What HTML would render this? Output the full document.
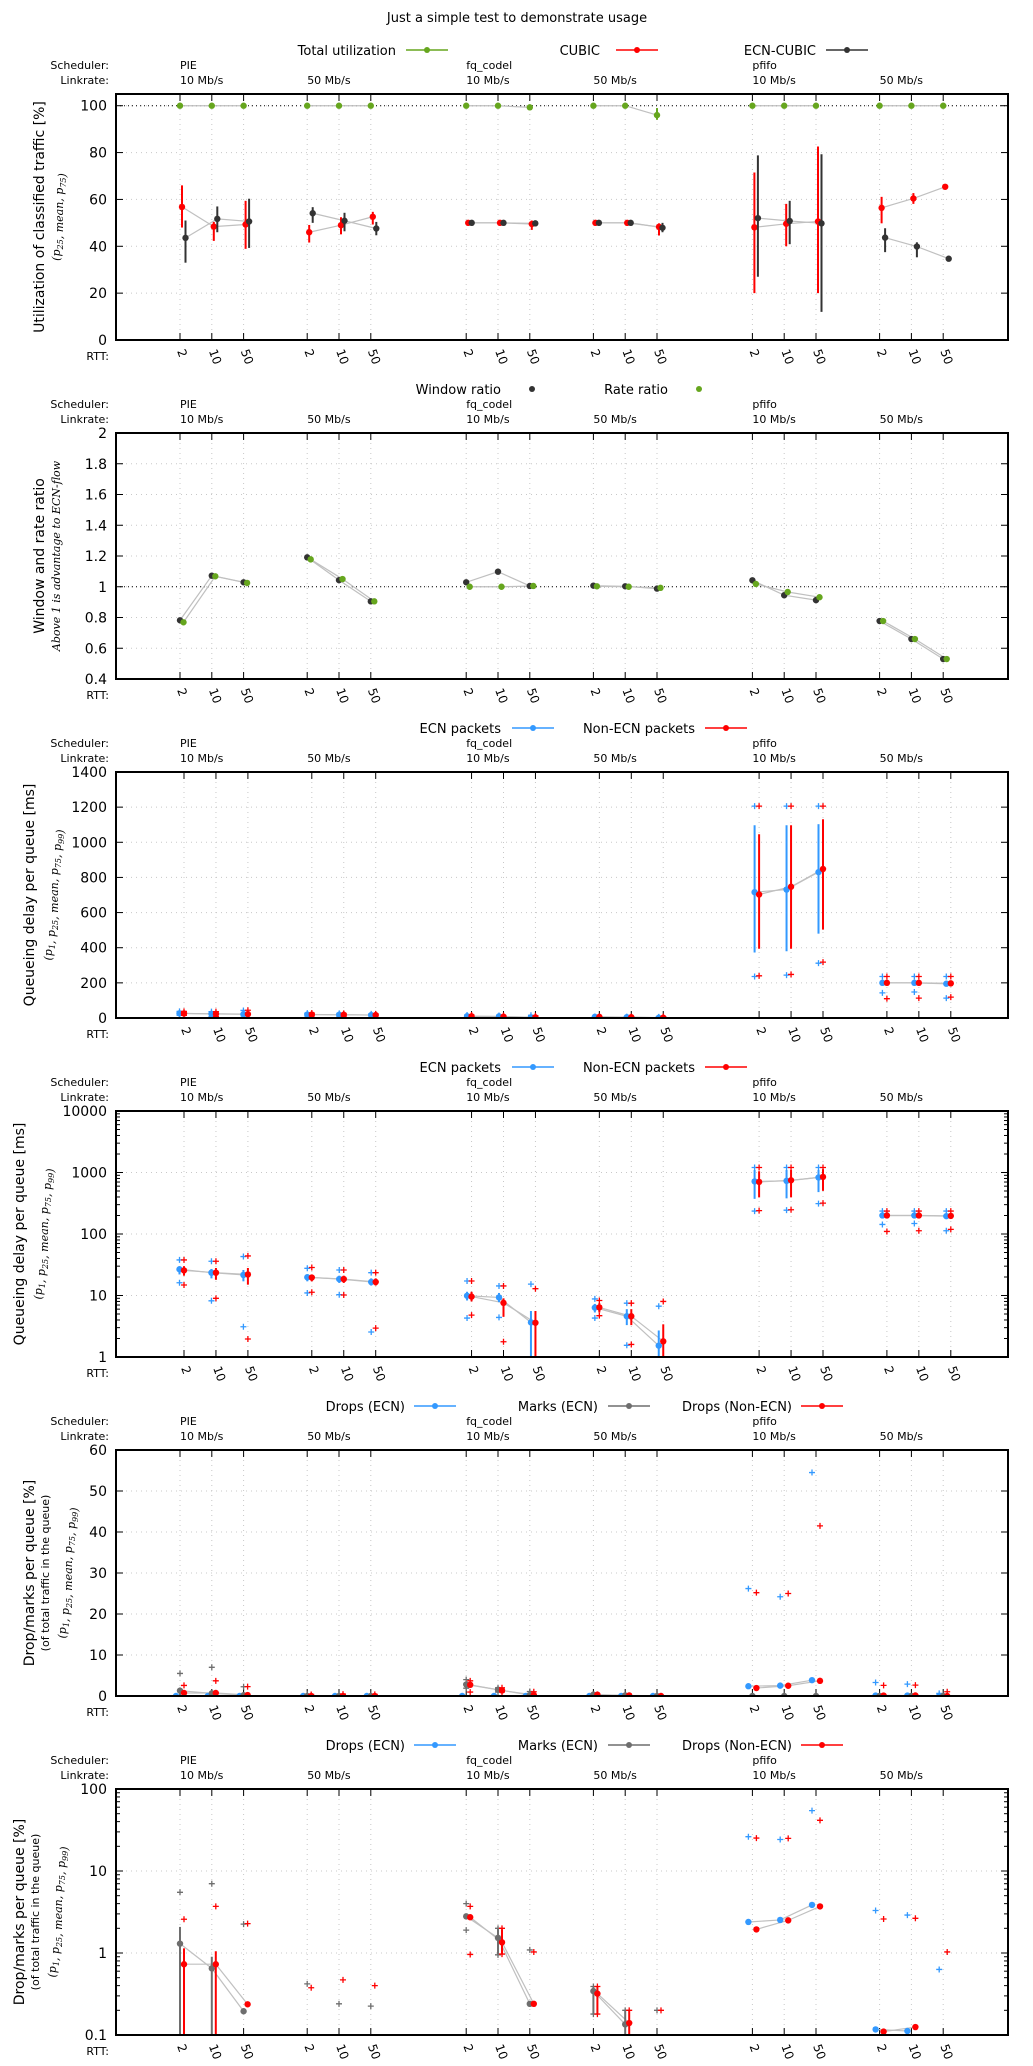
<!DOCTYPE html>
<html><head><meta charset="utf-8"><title>Just a simple test to demonstrate usage</title>
<style>
html,body{margin:0;padding:0;background:#fff;}
svg{display:block;font-family:"DejaVu Sans","Liberation Sans",sans-serif;}
</style></head>
<body>
<svg id="chart" width="1033" height="2066" viewBox="0 0 1033 2066" xmlns="http://www.w3.org/2000/svg">
<text x="517" y="22" text-anchor="middle" font-size="13">Just a simple test to demonstrate usage</text>
</svg>
<script>
// ---------- categories ----------
const schedulers = ["PIE","fq_codel","pfifo"];
const linkrates = ["10 Mb/s","50 Mb/s"];
const rtts = ["2","10","50"];

// ---------- panel 1: utilization (%) ----------
const totalMean = [100,100,100,100,100,100,100,100,99.3,100,100,96,100,100,100,100,100,100];
const totalP25  = [100,100,100,100,100,100,100,100,98.8,100,100,94,100,100,100,100,100,100];
const totalP75  = [100,100,100,100,100,100,100,100,99.6,100,100,99,100,100,100,100,100,100];
const cubicMean = [56.8,48.4,49.3,46,49,52.6,50,50,49.5,50,50,48.3,48.1,49.6,50.6,56.4,60.4,65.4];
const cubicP25  = [48,42.3,38.9,41.6,45.1,49.3,49.6,49.6,47,49.7,49.7,44.6,20,40,20,49.8,58.1,65];
const cubicP75  = [66,50.4,59.4,49.1,52.4,54.7,50.4,50.4,51,50.3,50.3,49.8,71.5,58.1,82.6,61.1,62.7,65.8];
const ecnCubicMean = [43.6,51.7,50.6,54.1,50.9,47.6,50,50,49.8,50,50,47.9,52,50.8,49.8,43.7,39.9,34.7];
const ecnCubicP25  = [33,46,39.3,50,46.4,44.7,49.6,49.6,48.5,49.7,49.7,46,27,40.9,12,37.5,35.3,34.4];
const ecnCubicP75  = [51,57,60.3,56.7,54.3,50.4,50.4,50.4,51,50.3,50.3,50,78.8,59.4,79.3,47.7,41.7,35];

// ---------- panel 2: ratios ----------
const windowRatio = [0.782,1.072,1.029,1.191,1.043,0.905,1.029,1.098,1.005,1.007,1.003,0.988,1.042,0.945,0.913,0.777,0.66,0.53];
const rateRatio   = [0.769,1.068,1.025,1.178,1.05,0.905,1.0,1.0,1.005,1.003,1.0,0.993,1.018,0.966,0.932,0.777,0.66,0.53];

// ---------- panels 3/4: queueing delay (ms) ----------
const ecnDelayMean = [26.7,23.5,21.6,19.8,18.5,16.6,9.9,9.3,3.66,6.35,4.6,1.53,716,731,830,200,200,195];
const ecnDelayP25  = [22,19,17,17,16,14.5,8.3,7.8,0.5,5.3,3.3,0.5,373,380,480,190,190,185];
const ecnDelayP75  = [30,27,26,22,21,19,11.5,11,5.6,7.3,6,2.7,1097,1097,1103,212,212,208];
const ecnDelayP1   = [16.1,8.2,3.1,11,10.3,2.55,4.3,4.4,0.3,4.3,1.55,0.3,236,244,312,143,148,113];
const ecnDelayP99  = [37.9,36,43,27.7,26,23.5,17.2,14.3,15.3,8.8,7.5,6.7,1206,1206,1206,236,236,236];
const nonEcnDelayMean = [25.6,23.5,22,19.6,18.5,16.6,9.6,7.6,3.6,6.4,4.6,1.8,703,747,848,200,200,197];
const nonEcnDelayP25  = [21,18,15,17,16,14.5,8,4.5,0.5,5.3,3.3,0.5,394,394,503,190,190,187];
const nonEcnDelayP75  = [30,28,28,22,21,19,11.5,9,5.6,7.5,6,3.4,1046,1097,1131,212,212,209];
const nonEcnDelayP1   = [14.8,9.0,1.96,11.3,10.2,2.95,4.8,1.77,0.3,4.7,1.6,0.3,240,248,318,110,113,119];
const nonEcnDelayP99  = [37.9,36,44,28.5,26,23.5,17.2,14.3,12.9,8.3,7.5,8.0,1206,1206,1206,236,236,236];

// ---------- panels 5/6: drops / marks (%) ----------
const dropsEcnMean = [0,0,0,0,0,0,0,0,0,0,0,0,2.39,2.53,3.86,0.117,0.112,0];
const dropsEcnP25  = [0,0,0,0,0,0,0,0,0,0,0,0,2.3,2.45,3.7,0.115,0.11,0];
const dropsEcnP75  = [0,0,0,0,0,0,0,0,0,0,0,0,2.5,2.6,4.0,0.12,0.115,0];
const dropsEcnP1   = [0,0,0,0,0,0,0,0,0,0,0,0,0,0,0,0,0,0];
const dropsEcnP99  = [0,0,0,0,0,0,0,0,0,0,0,0,26.2,24.2,54.5,3.3,2.9,0.63];
const marksEcnMean = [1.30,0.65,0.195,0,0,0,2.8,1.53,0.24,0.343,0.135,0,0,0,0,0,0,0];
const marksEcnP25  = [0,0,0.19,0,0,0,2.6,0.95,0.24,0.18,0.08,0,0,0,0,0,0,0];
const marksEcnP75  = [2.08,0.9,0.2,0,0,0,3.0,2.0,0.25,0.39,0.2,0,0,0,0,0,0,0];
const marksEcnP1   = [0,0,0,0,0,0,1.9,0.95,0,0.18,0,0,0,0,0,0,0,0];
const marksEcnP99  = [5.5,7.0,2.25,0.42,0.24,0.225,4.0,2.0,1.09,0.39,0.2,0.2,0,0,0,0,0,0];
const dropsNonEcnMean = [0.73,0.73,0.237,0,0,0,2.73,1.35,0.24,0.32,0.14,0,1.94,2.5,3.7,0.11,0.125,0];
const dropsNonEcnP25  = [0,0,0.23,0,0,0,2.6,0.97,0.24,0.18,0.05,0,1.9,2.45,3.6,0.11,0.12,0];
const dropsNonEcnP75  = [1.14,1.05,0.24,0,0,0,2.85,1.95,0.25,0.39,0.2,0,2.0,2.55,3.8,0.11,0.13,0];
const dropsNonEcnP1   = [0,0,0,0,0,0,0.96,0.97,0,0.18,0,0,0,0,0,0,0,0];
const dropsNonEcnP99  = [2.58,3.7,2.28,0.377,0.47,0.40,3.7,2.0,1.03,0.39,0.2,0.2,25.2,25.0,41.5,2.6,2.65,1.03];

// ---------- tick labels ----------
const ticks1 = [0,20,40,60,80,100];
const ticks2 = [0.4,0.6,0.8,1,1.2,1.4,1.6,1.8,2];
const ticks3 = [0,200,400,600,800,1000,1200,1400];
const ticks4 = [1,10,100,1000,10000];
const ticks5 = [0,10,20,30,40,50,60];
const ticks6 = [0.1,1,10,100];

const NS = "http://www.w3.org/2000/svg";
const svg = document.getElementById("chart");
const GREEN="#66a61e", RED="#ff0000", DARK="#333333", BLUE="#3399ff", GREY="#6e6e6e", LINE="#c0c0c0";

function mk(tag, attrs, parent){
  const e=document.createElementNS(NS,tag);
  for(const k in attrs) e.setAttribute(k,attrs[k]);
  (parent||svg).appendChild(e); return e;
}
function unitOf(i){ const s=Math.floor(i/6), l=Math.floor((i%6)/3), r=i%3; return s*9+l*4+r; }

const L=116, R=1008, PH=246;

function panel(cfg){
  const g=mk("g",{});
  
  
  const top=cfg.top, bot=top+PH;
  const x0=cfg.x0, dx=cfg.dx;
  const X=u=>x0+u*dx;
  let Y;
  if(cfg.log){ const a=Math.log10(cfg.min), b=Math.log10(cfg.max); Y=v=>bot-(Math.log10(v)-a)/(b-a)*PH; }
  else Y=v=>bot-(v-cfg.min)/(cfg.max-cfg.min)*PH;
  const clipId="clip"+cfg.name;
  const cp=mk("clipPath",{id:clipId},g); mk("rect",{x:L,y:top,width:R-L,height:PH},cp);

  const h1=mk("text",{x:109,y:top-25,"text-anchor":"end","font-size":11},g); h1.textContent="Scheduler:";
   
  const h2=mk("text",{x:109,y:top-10,"text-anchor":"end","font-size":11},g); h2.textContent="Linkrate:";
   
  for(let s=0;s<3;s++){
    const t=mk("text",{x:180+s*9*31.8,y:top-25,"font-size":11},g); t.textContent=schedulers[s];
     
    for(let l=0;l<2;l++){
      const t2=mk("text",{x:180+(s*9+l*4)*31.8,y:top-10,"font-size":11},g); t2.textContent=linkrates[l];
       
    }
  }
  const rt=mk("text",{x:109,y:bot+20,"text-anchor":"end","font-size":11},g); rt.textContent="RTT:";
   

  cfg.ticks.forEach(v=>{
    const y=Y(v);
    mk("line",{x1:L,x2:R,y1:y,y2:y,stroke:"#c8c8c8","stroke-dasharray":"1,4","stroke-width":1},g);
    mk("line",{x1:L,x2:L+7,y1:y,y2:y,stroke:"#000"},g);
    mk("line",{x1:R-7,x2:R,y1:y,y2:y,stroke:"#000"},g);
    const t=mk("text",{x:107,y:y+5,"text-anchor":"end","font-size":14},g); t.textContent=String(v);
     
  });
  if(cfg.log){
    const a=Math.log10(cfg.min), b=Math.log10(cfg.max);
    for(let d=a; d<b; d++) for(let m=2;m<10;m++){
      const y=Y(m*Math.pow(10,d));
      mk("line",{x1:L,x2:L+4,y1:y,y2:y,stroke:"#000"},g);
      mk("line",{x1:R-4,x2:R,y1:y,y2:y,stroke:"#000"},g);
    }
  }
  for(let i=0;i<18;i++){
    const x=X(unitOf(i));
    mk("line",{x1:x,x2:x,y1:top,y2:bot,stroke:"#c8c8c8","stroke-dasharray":"1,4"},g);
    mk("line",{x1:x,x2:x,y1:bot,y2:bot-7,stroke:"#000"},g);
    mk("line",{x1:x,x2:x,y1:top,y2:top+7,stroke:"#000"},g);
    const t=mk("text",{x:x-3,y:bot+11,"font-size":12,transform:`rotate(70 ${x-3} ${bot+11})`},g);
    t.textContent=rtts[i%3];
     
  }
  if(cfg.ref!==undefined){
    const y=Y(cfg.ref);
    mk("line",{x1:L,x2:R,y1:y,y2:y,stroke:"#000","stroke-dasharray":"1,3"},g);
  }
  cfg.titles.forEach(tt=>{
    const cy=top+PH/2;
    const t=mk("text",{x:tt.x,y:cy,"text-anchor":"middle","font-size":tt.size,"font-style":tt.italic?"italic":"normal","font-family":tt.serif?'"DejaVu Serif","Liberation Serif",serif':'"DejaVu Sans","Liberation Sans",sans-serif',transform:`rotate(-90 ${tt.x} ${cy})`},g);
    t.innerHTML=tt.html;
     
  });

  const pg=mk("g",{"clip-path":`url(#${clipId})`},g);
  const ok=v=>cfg.log? v>0 : true;
  const yy=v=>{ if(cfg.log && v<=0) return bot+10; return Y(v); };
  cfg.series.forEach(s=>{
    for(let grp=0;grp<6;grp++){
      const pts=[];
      for(let r=0;r<3;r++){ const i=grp*3+r; if(ok(s.mean[i])) pts.push([X(unitOf(i))+s.off, Y(s.mean[i])]); }
      if(pts.length>1){
        const p=mk("polyline",{points:pts.map(q=>q.join(",")).join(" "),fill:"none",stroke:LINE,"stroke-width":1.2},pg);
         
      }
    }
  });
  cfg.series.forEach(s=>{
    for(let i=0;i<18;i++){
      const x=X(unitOf(i))+s.off;
      if(s.p25){
        const a=yy(s.p25[i]), b=yy(s.p75[i]);
        if(cfg.log && s.p75[i]<=0){} else {
          const bar=mk("line",{x1:x,x2:x,y1:a,y2:b,stroke:s.color,"stroke-width":2},pg);
           
        }
      }
      ["p1","p99"].forEach(k=>{
        if(!s[k]) return; const v=s[k][i];
        if(v<=0) return; if(!cfg.log && v<0.3) return;
        const y=Y(v);
        const c=mk("path",{d:`M${x-3},${y}h6M${x},${y-3}v6`,stroke:s.color,"stroke-width":1.3},pg);
         
      });
      if(ok(s.mean[i])){
        const c=mk("circle",{cx:x,cy:Y(s.mean[i]),r:3.2,fill:s.color},pg);
         
      }
    }
  });
  mk("rect",{x:L,y:top,width:R-L,height:PH,fill:"none",stroke:"#000","stroke-width":2},g);
  cfg.legend.forEach(lg=>{
    const ly=top-44;
    const t=mk("text",{x:lg.tx,y:ly+5,"text-anchor":"end","font-size":13},g); t.textContent=lg.label;
     
    if(!lg.pointOnly) mk("line",{x1:lg.lx,x2:lg.lx+42,y1:ly,y2:ly,stroke:lg.color,"stroke-width":1.5},g);
    const c=mk("circle",{cx:lg.pointOnly?lg.lx:lg.lx+21,cy:ly,r:3,fill:lg.color},g);
     
  });
}

const sub = (t)=>`<tspan font-size="8" dy="3">${t}</tspan><tspan dy="-3"></tspan>`;

panel({name:"utilization-panel",top:94,min:0,max:105,ticks:ticks1,ref:100,x0:180,dx:31.8,
  titles:[{x:44,size:14,html:"Utilization of classified traffic [%]"},
          {x:60,size:11,italic:true,serif:true,html:`(p${sub("25")}, mean, p${sub("75")})`}],
  legend:[{label:"Total utilization",tx:396,lx:406,color:GREEN},{label:"CUBIC",tx:600,lx:616,color:RED},{label:"ECN-CUBIC",tx:816,lx:826,color:DARK}],
  series:[{key:"total-utilization",color:GREEN,off:0,mean:totalMean,p25:totalP25,p75:totalP75},
          {key:"cubic",color:RED,off:2,mean:cubicMean,p25:cubicP25,p75:cubicP75},
          {key:"ecn-cubic",color:DARK,off:5.5,mean:ecnCubicMean,p25:ecnCubicP25,p75:ecnCubicP75}]});

panel({name:"ratio-panel",top:433,min:0.4,max:2,ticks:ticks2,ref:1,x0:180,dx:31.8,
  titles:[{x:44,size:14,html:"Window and rate ratio"},
          {x:60,size:11,italic:true,serif:true,html:"Above 1 is advantage to ECN-flow"}],
  legend:[{label:"Window ratio",tx:501,lx:532,color:DARK,pointOnly:true},{label:"Rate ratio",tx:668,lx:699,color:GREEN,pointOnly:true}],
  series:[{key:"window-ratio",color:DARK,off:0,mean:windowRatio},
          {key:"rate-ratio",color:GREEN,off:3.5,mean:rateRatio}]});

const delayTitles=(x)=>[{x:x,size:14,html:"Queueing delay per queue [ms]"},
  {x:x+18,size:11,italic:true,serif:true,html:`(p${sub("1")}, p${sub("25")}, mean, p${sub("75")}, p${sub("99")})`}];
const delaySeries=[{key:"ecn-packets",color:BLUE,off:-4.5,mean:ecnDelayMean,p25:ecnDelayP25,p75:ecnDelayP75,p1:ecnDelayP1,p99:ecnDelayP99},
  {key:"non-ecn-packets",color:RED,off:0,mean:nonEcnDelayMean,p25:nonEcnDelayP25,p75:nonEcnDelayP75,p1:nonEcnDelayP1,p99:nonEcnDelayP99}];
const delayLegend=[{label:"ECN packets",tx:501,lx:512,color:BLUE},{label:"Non-ECN packets",tx:695,lx:705,color:RED}];

panel({name:"delay-linear-panel",top:772,min:0,max:1400,ticks:ticks3,x0:184,dx:31.95,
  titles:delayTitles(34),legend:delayLegend,series:delaySeries});
panel({name:"delay-log-panel",top:1111,min:1,max:10000,log:true,ticks:ticks4,x0:184,dx:31.95,
  titles:delayTitles(24),legend:delayLegend,series:delaySeries});

const dropTitles=(x)=>[{x:x,size:14,html:"Drop/marks per queue [%]"},
  {x:x+15,size:11,html:"(of total traffic in the queue)"},
  {x:x+32,size:11,italic:true,serif:true,html:`(p${sub("1")}, p${sub("25")}, mean, p${sub("75")}, p${sub("99")})`}];
const dropSeries=[{key:"drops-ecn",color:BLUE,off:-4,mean:dropsEcnMean,p25:dropsEcnP25,p75:dropsEcnP75,p1:dropsEcnP1,p99:dropsEcnP99},
  {key:"marks-ecn",color:GREY,off:0,mean:marksEcnMean,p25:marksEcnP25,p75:marksEcnP75,p1:marksEcnP1,p99:marksEcnP99},
  {key:"drops-non-ecn",color:RED,off:4,mean:dropsNonEcnMean,p25:dropsNonEcnP25,p75:dropsNonEcnP75,p1:dropsNonEcnP1,p99:dropsNonEcnP99}];
const dropLegend=[{label:"Drops (ECN)",tx:405,lx:414,color:BLUE},{label:"Marks (ECN)",tx:598,lx:608,color:GREY},{label:"Drops (Non-ECN)",tx:792,lx:801,color:RED}];

panel({name:"drops-linear-panel",top:1450,min:0,max:60,ticks:ticks5,x0:180,dx:31.8,
  titles:dropTitles(34),legend:dropLegend,series:dropSeries});
panel({name:"drops-log-panel",top:1789,min:0.1,max:100,log:true,ticks:ticks6,x0:180,dx:31.8,
  titles:dropTitles(24),legend:dropLegend,series:dropSeries});
</script>
</body></html>
